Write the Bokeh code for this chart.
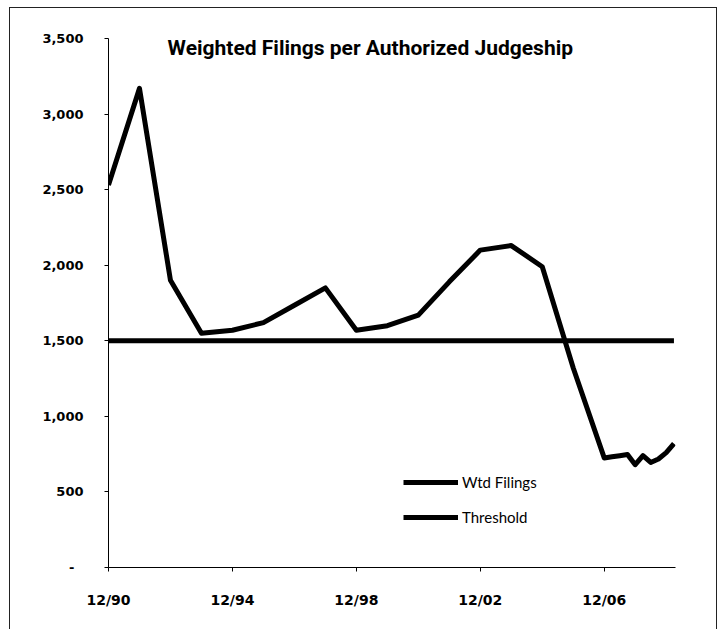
from bokeh.plotting import figure
from bokeh.models import (FixedTicker, NumeralTickFormatter, Label, Legend,
                          LegendItem, Range1d, ColumnDataSource)
from bokeh.embed import file_html
from bokeh.resources import INLINE

# ---------------- data ----------------
periods = ["12/90", "12/91", "12/92", "12/93", "12/94", "12/95", "12/96",
           "12/97", "12/98", "12/99", "12/00", "12/01", "12/02", "12/03",
           "12/04", "12/05", "12/06", "3/07", "6/07", "9/07", "12/07",
           "3/08", "6/08", "9/08", "12/08", "3/09"]
wtd_filings = [2530, 3170, 1900, 1550, 1570, 1620, 1735,
               1850, 1570, 1600, 1670, 1890, 2100, 2130,
               1990, 1320, 725, 733, 740, 748, 680,
               740, 695, 718, 760, 820]
THRESHOLD = 1500
threshold = [THRESHOLD for _ in periods]

x_tick_labels = ["12/90", "12/94", "12/98", "12/02", "12/06"]
y_ticks = [0, 500, 1000, 1500, 2000, 2500, 3000, 3500]
series_names = ["Wtd Filings", "Threshold"]
title_text = "Weighted Filings per Authorized Judgeship"


def to_x(label):
    m, yy = label.split("/")
    yy = int(yy)
    year = yy + (1900 if yy >= 50 else 2000)
    return year + int(m) / 12 - 1991


xs = [to_x(s) for s in periods]
src = ColumnDataSource(dict(x=xs, wtd=wtd_filings, thr=threshold))

p = figure(width=708, height=622, output_backend="svg", toolbar_location=None,
           x_range=Range1d(0, xs[-1] + 0.05), y_range=Range1d(0, 3500),
           min_border_left=98, min_border_right=43, min_border_top=30,
           min_border_bottom=63)
p.styles = {"margin-left": "9px", "margin-top": "7px",
            "border-top": "1px solid #222", "border-left": "1px solid #222",
            "border-right": "1px solid #222"}
p.outline_line_color = None
p.xgrid.grid_line_color = None
p.ygrid.grid_line_color = None
p.background_fill_color = "white"
p.border_fill_color = "white"

r_thr = p.line("x", "thr", source=src, line_color="black", line_width=5)
r_wtd = p.line("x", "wtd", source=src, line_color="black", line_width=5,
               line_join="round")

# axes
p.xaxis.ticker = FixedTicker(ticks=[to_x(s) for s in x_tick_labels])
p.xaxis.major_label_overrides = {to_x(s): s for s in x_tick_labels}
p.xaxis.minor_tick_line_color = None
p.xaxis.major_tick_in = 0
p.xaxis.major_tick_out = 4
p.xaxis.major_label_standoff = 20
p.xaxis.axis_line_color = "black"
p.xaxis.major_label_text_font = "DejaVu Sans"
p.xaxis.major_label_text_font_style = "bold"
p.xaxis.major_label_text_font_size = "14px"
p.xaxis.major_label_text_color = "black"

p.yaxis.ticker = FixedTicker(ticks=y_ticks)
p.yaxis.formatter = NumeralTickFormatter(format="0,0")
p.yaxis.major_label_overrides = {0: "-\u00a0\u00a0"}
p.yaxis.minor_tick_line_color = None
p.yaxis.major_tick_in = 0
p.yaxis.major_tick_out = 4
p.yaxis.major_label_standoff = 21
p.yaxis.axis_line_color = "black"
p.yaxis.major_label_text_font = "DejaVu Sans"
p.yaxis.major_label_text_font_style = "bold"
p.yaxis.major_label_text_font_size = "13px"
p.yaxis.major_label_text_color = "black"

# title inside the plot area
p.add_layout(Label(x=8.45, y=3500, text=title_text, text_align="center",
                   text_baseline="top", y_offset=3,
                   text_font="Roboto", text_font_style="bold",
                   text_font_size="21px", text_color="black"))

legend = Legend(items=[LegendItem(label=series_names[0], renderers=[r_wtd]),
                       LegendItem(label=series_names[1], renderers=[r_thr])],
                location=(295, 40), padding=0, margin=0,
                border_line_color=None, background_fill_alpha=0,
                glyph_width=55, glyph_height=20, label_height=20,
                spacing=15, label_standoff=4,
                label_text_font="Lato", label_text_font_size="15px",
                label_text_color="black")
p.add_layout(legend)

open("out.html", "w").write(file_html(p, INLINE))
